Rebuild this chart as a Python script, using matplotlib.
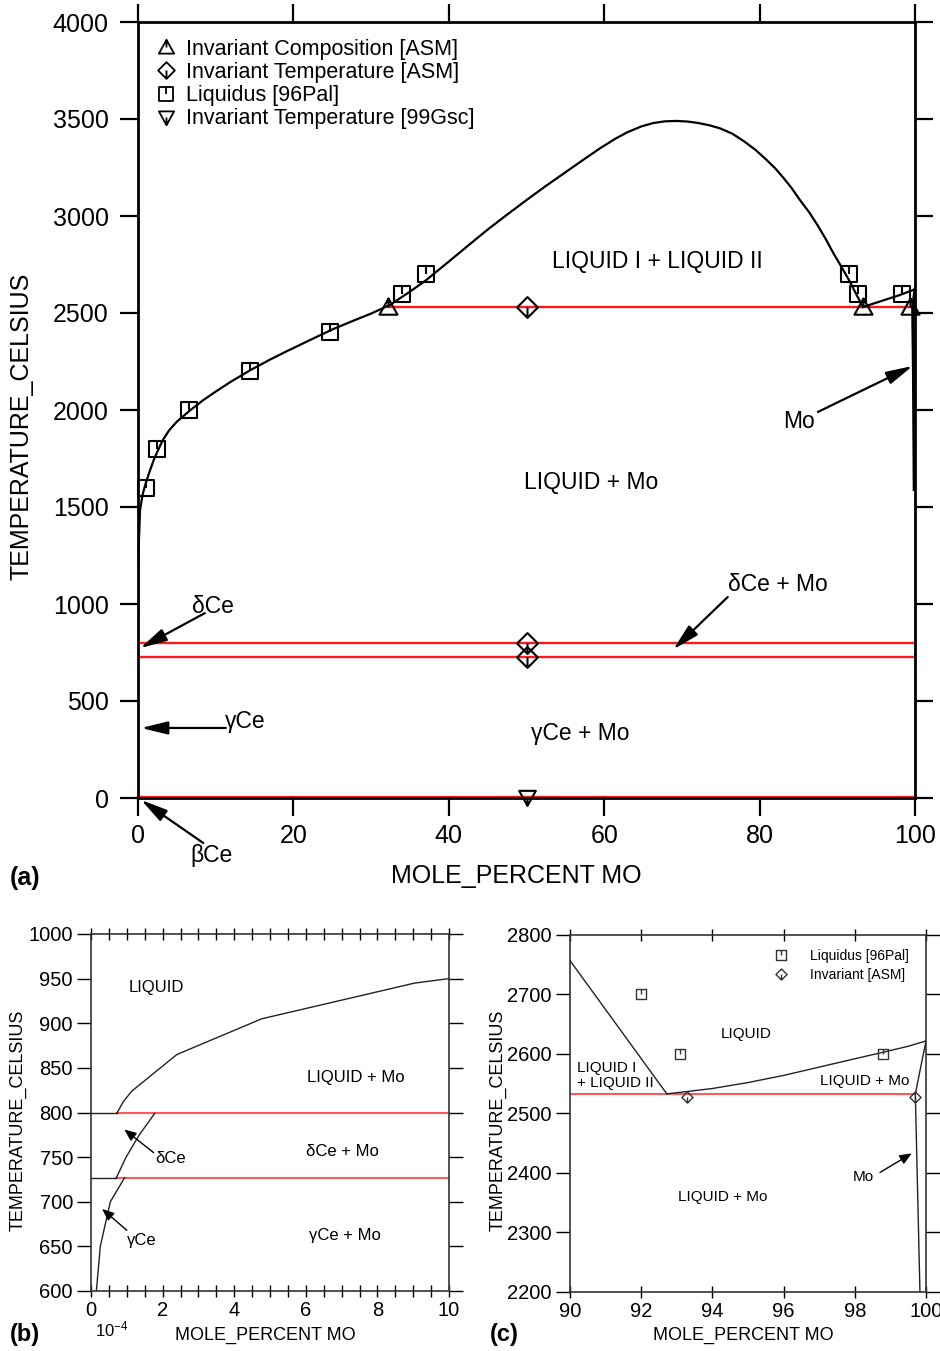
import matplotlib
matplotlib.use('Agg')
import matplotlib.pyplot as plt
from matplotlib.path import Path
from matplotlib.lines import Line2D

plt.rcParams['font.family'] = ['Liberation Sans', 'DejaVu Sans']
plt.rcParams['mathtext.fontset'] = 'custom'
plt.rcParams['mathtext.rm'] = 'Liberation Sans'
plt.rcParams['mathtext.it'] = 'Liberation Sans:italic'

# ---------------- data : panel (a) ----------------
liq_a_x = [0, 0.02, 0.1, 0.26, 0.6, 0.9, 1.3, 1.6, 2.1, 2.6, 3.2, 4.0, 5.0, 6.7,
           8.3, 10, 12, 14.4, 17, 19, 22, 25, 28, 30, 32.4, 35, 37.1, 40, 42.5,
           45, 47.5, 50, 52.5, 55, 57.5, 59.5, 61.5, 63, 64.8, 66.3, 67.8, 69.3,
           70.7, 72, 73.5, 74.9, 76.5, 78, 79.5, 80.9, 82, 83, 84.1, 85.2, 86.4,
           87.5, 88.5, 89.5, 90.5, 91.5, 92.4, 93.3]
liq_a_t = [798, 1100, 1300, 1485, 1565, 1610, 1660, 1695, 1750, 1795, 1845, 1895,
           1940, 1998, 2048, 2095, 2147, 2204, 2260, 2300, 2358, 2415, 2465, 2497,
           2541, 2610, 2670, 2765, 2848, 2930, 3007, 3082, 3155, 3225, 3295, 3350,
           3400, 3432, 3462, 3479, 3488, 3490, 3487, 3480, 3468, 3452, 3424, 3385,
           3340, 3289, 3246, 3200, 3145, 3082, 3018, 2950, 2882, 2808, 2740, 2670,
           2600, 2531]
moliq_a_x = [93.3, 96, 98, 100]
moliq_a_t = [2531, 2566, 2592, 2622]
mosol_a_x = [100, 99.7, 99.8, 99.9]
mosol_a_t = [2622, 2531, 2200, 1590]
mono_a_x = [32.2, 99.5]
mono_a_t = 2531
inv_a_t = [799, 727, 5]

sq_a_x = [1.0, 2.4, 6.6, 14.4, 24.7, 34.0, 37.1, 91.5, 92.6, 98.3]
sq_a_t = [1600, 1800, 2000, 2200, 2400, 2600, 2700, 2700, 2600, 2600]
tri_a_x = [32.2, 93.3, 99.3]
tri_a_t = [2531, 2531, 2531]
dia_a_x = [50, 50, 50]
dia_a_t = [2531, 799, 727]
itri_a_x = [50]
itri_a_t = [5]

legend_a = ['Invariant Composition [ASM]', 'Invariant Temperature [ASM]',
            'Liquidus [96Pal]', 'Invariant Temperature [99Gsc]']

# ---------------- data : panel (b) (x in 1e-4 mole %) ----------------
liq_b_x = [0.72, 0.9, 1.14, 2.4, 4.77, 9.04, 10]
liq_b_t = [799, 812, 824, 865, 905, 945, 950]
dsol_b_x = [0.71, 0.98, 1.35, 1.78]
dsol_b_t = [727, 750, 775, 799]
gsol_b_x = [0.15, 0.26, 0.54, 0.94]
gsol_b_t = [600, 650, 700, 727]
inv_b_t = [799, 727]
inv_b_x0 = [0.72, 0.71]

# ---------------- data : panel (c) ----------------
gap_c_x = [90, 92.72]
gap_c_t = [2757, 2533]
liq_c_x = [92.72, 93.3, 94, 95, 96, 97, 98, 98.8, 99.5, 100]
liq_c_t = [2533, 2537, 2542, 2552, 2564, 2578, 2592, 2603, 2613, 2622]
sol_c_x = [100, 99.7, 99.83]
sol_c_t = [2622, 2533, 2200]
mono_c_x = [90, 99.7]
mono_c_t = 2532
sq_c_x = [92, 93.1, 98.8]
sq_c_t = [2700, 2600, 2600]
dia_c_x = [93.3, 99.7]
dia_c_t = [2527, 2527]

RED = '#ff1a1a'
RED2 = '#ff5a5a'

# ---------------- custom markers ----------------
M, L, C = Path.MOVETO, Path.LINETO, Path.CLOSEPOLY
sq_mk = Path([(-1, -1), (1, -1), (1, 1), (-1, 1), (-1, -1), (0, 1), (0, 0)],
             [M, L, L, L, C, M, L])
tri_mk = Path([(-1, -0.8), (1, -0.8), (0, 1), (-1, -0.8), (0, 1), (0, 0)],
              [M, L, L, C, M, L])
dia_mk = Path([(0, -1), (1, 0), (0, 1), (-1, 0), (0, -1), (0, -1), (0, 0)],
              [M, L, L, L, C, M, L])
itri_mk = Path([(-1, 0.8), (1, 0.8), (0, -1), (-1, 0.8), (0, -1), (0, 0)],
               [M, L, L, C, M, L])

W, H = 940, 1351
fig = plt.figure(figsize=(W / 100, H / 100), dpi=100)


def ax_rect(x0, y0, x1, y1):
    return [x0 / W, 1 - y1 / H, (x1 - x0) / W, (y1 - y0) / H]


# ======================= panel (a) =======================
ax = fig.add_axes(ax_rect(138, 22, 915, 798))
ax.set_xlim(0, 100)
ax.set_ylim(0, 4000)
for s in ax.spines.values():
    s.set_linewidth(2.0)
ax.set_xticks([0, 20, 40, 60, 80, 100])
ax.set_yticks(range(0, 4001, 500))
ax.tick_params(direction='out', length=13, width=1.6, labelsize=18,
               top=True, right=True, pad=6)
ax.tick_params(axis='y', pad=8)

for t in inv_a_t:
    ax.plot([0, 100], [t, t], color=RED, lw=1.7, zorder=2)
ax.plot(mono_a_x, [mono_a_t, mono_a_t], color=RED, lw=1.7, zorder=2)

ax.plot(liq_a_x, liq_a_t, color='k', lw=1.6, zorder=3, solid_joinstyle='round')
ax.plot(moliq_a_x, moliq_a_t, color='k', lw=1.6, zorder=3)
ax.plot(mosol_a_x, mosol_a_t, color='k', lw=2.2, zorder=3, clip_on=False)

mk = dict(ls='none', mfc='none', mec='k', mew=1.5, zorder=4, clip_on=False)
ax.plot(sq_a_x, sq_a_t, marker=sq_mk, ms=12, **mk)
ax.plot(tri_a_x, tri_a_t, marker=tri_mk, ms=13, **mk)
ax.plot(dia_a_x, dia_a_t, marker=dia_mk, ms=15, **mk)
ax.plot(itri_a_x, itri_a_t, marker=itri_mk, ms=12, **mk)

hmk = dict(ls='none', mfc='none', mec='k', mew=1.3)
handles = [Line2D([], [], marker=tri_mk, ms=11, **hmk),
           Line2D([], [], marker=dia_mk, ms=12, **hmk),
           Line2D([], [], marker=sq_mk, ms=10, **hmk),
           Line2D([], [], marker=itri_mk, ms=11, **hmk)]
ax.legend(handles, legend_a, loc='upper left', bbox_to_anchor=(0.006, 0.995),
          frameon=False, fontsize=15.5, handlelength=1.0, handletextpad=0.4,
          labelspacing=0.1, borderaxespad=0.2)

ax.text(66.9, 2768, 'LIQUID I + LIQUID II', fontsize=16.5, ha='center', va='center')
ax.text(58.3, 1624, 'LIQUID + Mo', fontsize=16.5, ha='center', va='center')
ax.text(56.9, 330, 'γCe + Mo', fontsize=16.5, ha='center', va='center')
ax.text(82.4, 1103, 'δCe + Mo', fontsize=16.5, ha='center', va='center')
ax.text(9.65, 985, 'δCe', fontsize=16.5, ha='center', va='center')
ax.text(13.8, 392, 'γCe', fontsize=16.5, ha='center', va='center')
ax.text(9.5, -294, 'βCe', fontsize=16.5, ha='center', va='center')
ax.text(85.1, 1943, 'Mo', fontsize=16.5, ha='center', va='center')

ap = dict(arrowstyle='-|>,head_length=0.9,head_width=0.22', color='k', lw=1.6,
          mutation_scale=18, shrinkA=0, shrinkB=0)
ax.annotate('', xy=(0.3, 773), xytext=(8.6, 953), arrowprops=ap, annotation_clip=False)
ax.annotate('', xy=(0.4, 361), xytext=(11.3, 361), arrowprops=ap, annotation_clip=False)
ax.annotate('', xy=(0.4, -10), xytext=(8.4, -232), arrowprops=ap, annotation_clip=False)
ax.annotate('', xy=(99.7, 2227), xytext=(87.5, 1990), arrowprops=ap, annotation_clip=False)
ax.annotate('', xy=(68.9, 766), xytext=(75.9, 1036), arrowprops=ap, annotation_clip=False)

fig.text(22 / W, 1 - 426 / H, 'TEMPERATURE_CELSIUS', rotation=90, fontsize=18,
         ha='center', va='center')
fig.text(516 / W, 1 - 876 / H, 'MOLE_PERCENT MO', fontsize=18, ha='center', va='center')
fig.text(10 / W, 1 - 878 / H, '(a)', fontsize=18, fontweight='bold', ha='left', va='center')

# ======================= panel (b) =======================
bx = fig.add_axes(ax_rect(91, 934, 449, 1291))
bx.set_xlim(0, 10)
bx.set_ylim(600, 1000)
for s in bx.spines.values():
    s.set_linewidth(1.2)
    s.set_color('#333333')
bx.set_xticks(range(0, 11, 2))
bx.set_xticks([i * 0.5 for i in range(21)], minor=True)
bx.set_yticks(range(600, 1001, 50))
bx.tick_params(axis='x', which='both', direction='inout', length=8, width=1.0,
               top=True, labelsize=14.5, pad=3)
bx.tick_params(axis='y', direction='out', length=10, width=1.0, right=True,
               labelsize=14.5, pad=3)

for t, x0 in zip(inv_b_t, inv_b_x0):
    bx.plot([0, x0], [t, t], color='#222222', lw=1.0, zorder=3)
    bx.plot([x0, 10], [t, t], color=RED2, lw=1.5, zorder=2)
bx.plot(liq_b_x, liq_b_t, color='#222222', lw=1.0, zorder=3)
bx.plot(dsol_b_x, dsol_b_t, color='#222222', lw=1.0, zorder=3)
bx.plot(gsol_b_x, gsol_b_t, color='#222222', lw=1.0, zorder=3)

bx.text(1.82, 940, 'LIQUID', fontsize=12, ha='center', va='center')
bx.text(7.4, 839, 'LIQUID + Mo', fontsize=12, ha='center', va='center')
bx.text(7.03, 756, 'δCe + Mo', fontsize=12, ha='center', va='center')
bx.text(7.09, 662, 'γCe + Mo', fontsize=12, ha='center', va='center')
bx.text(2.21, 748, 'δCe', fontsize=12, ha='center', va='center')
bx.text(1.42, 657, 'γCe', fontsize=12, ha='center', va='center')
ap2 = dict(arrowstyle='-|>,head_length=0.6,head_width=0.25', color='k', lw=1.0,
           mutation_scale=12, shrinkA=0, shrinkB=0)
bx.annotate('', xy=(0.93, 781), xytext=(1.75, 755), arrowprops=ap2)
bx.annotate('', xy=(0.31, 692), xytext=(1.0, 668), arrowprops=ap2)

fig.text(18 / W, 1 - 1120 / H, 'TEMPERATURE_CELSIUS', rotation=90, fontsize=13,
         ha='center', va='center')
fig.text(265 / W, 1 - 1335 / H, 'MOLE_PERCENT MO', fontsize=13, ha='center', va='center')
fig.text(112 / W, 1 - 1329 / H, r'$10^{-4}$', fontsize=12, ha='center', va='center')
fig.text(10 / W, 1 - 1335 / H, '(b)', fontsize=17, fontweight='bold', ha='left', va='center')

# ======================= panel (c) =======================
cx = fig.add_axes(ax_rect(570, 935, 926, 1292))
cx.set_xlim(90, 100)
cx.set_ylim(2200, 2800)
for s in cx.spines.values():
    s.set_linewidth(1.2)
    s.set_color('#333333')
cx.set_xticks(range(90, 101, 2))
cx.set_yticks(range(2200, 2801, 100))
cx.tick_params(axis='x', direction='inout', length=8, width=1.0, top=True,
               labelsize=14.5, pad=3)
cx.tick_params(axis='y', direction='out', length=10, width=1.0, right=True,
               labelsize=14.5, pad=3)

cx.plot(mono_c_x, [mono_c_t, mono_c_t], color=RED2, lw=1.5, zorder=2)
cx.plot(gap_c_x, gap_c_t, color='#222222', lw=1.0, zorder=3)
cx.plot(liq_c_x, liq_c_t, color='#222222', lw=1.0, zorder=3)
cx.plot(sol_c_x, sol_c_t, color='#222222', lw=1.0, zorder=3)
mk2 = dict(ls='none', mfc='none', mec='#333333', mew=1.0, zorder=4, clip_on=False)
cx.plot(sq_c_x, sq_c_t, marker=sq_mk, ms=6.5, **mk2)
cx.plot(dia_c_x, dia_c_t, marker=dia_mk, ms=8, **mk2)

hmk2 = dict(ls='none', mfc='none', mec='#333333', mew=1.0)
cx.legend([Line2D([], [], marker=sq_mk, ms=6.5, **hmk2),
           Line2D([], [], marker=dia_mk, ms=8, **hmk2)],
          ['Liquidus [96Pal]', 'Invariant [ASM]'], loc='upper right',
          bbox_to_anchor=(0.975, 0.985), frameon=False, fontsize=10,
          handlelength=1.0, handletextpad=1.6, labelspacing=0.35, borderaxespad=0.2)

cx.text(94.96, 2634, 'LIQUID', fontsize=11, ha='center', va='center')
cx.text(90.2, 2564, 'LIQUID I\n+ LIQUID II', fontsize=11, ha='left', va='center',
        linespacing=1.1, multialignment='left')
cx.text(98.29, 2555, 'LIQUID + Mo', fontsize=11, ha='center', va='center')
cx.text(94.3, 2360, 'LIQUID + Mo', fontsize=11, ha='center', va='center')
cx.text(98.24, 2393, 'Mo', fontsize=11, ha='center', va='center')
cx.annotate('', xy=(99.6, 2433), xytext=(98.71, 2401), arrowprops=ap2)

fig.text(498 / W, 1 - 1120 / H, 'TEMPERATURE_CELSIUS', rotation=90, fontsize=13,
         ha='center', va='center')
fig.text(743 / W, 1 - 1335 / H, 'MOLE_PERCENT MO', fontsize=13, ha='center', va='center')
fig.text(490 / W, 1 - 1335 / H, '(c)', fontsize=17, fontweight='bold', ha='left', va='center')

fig.savefig('out.png', dpi=100)
